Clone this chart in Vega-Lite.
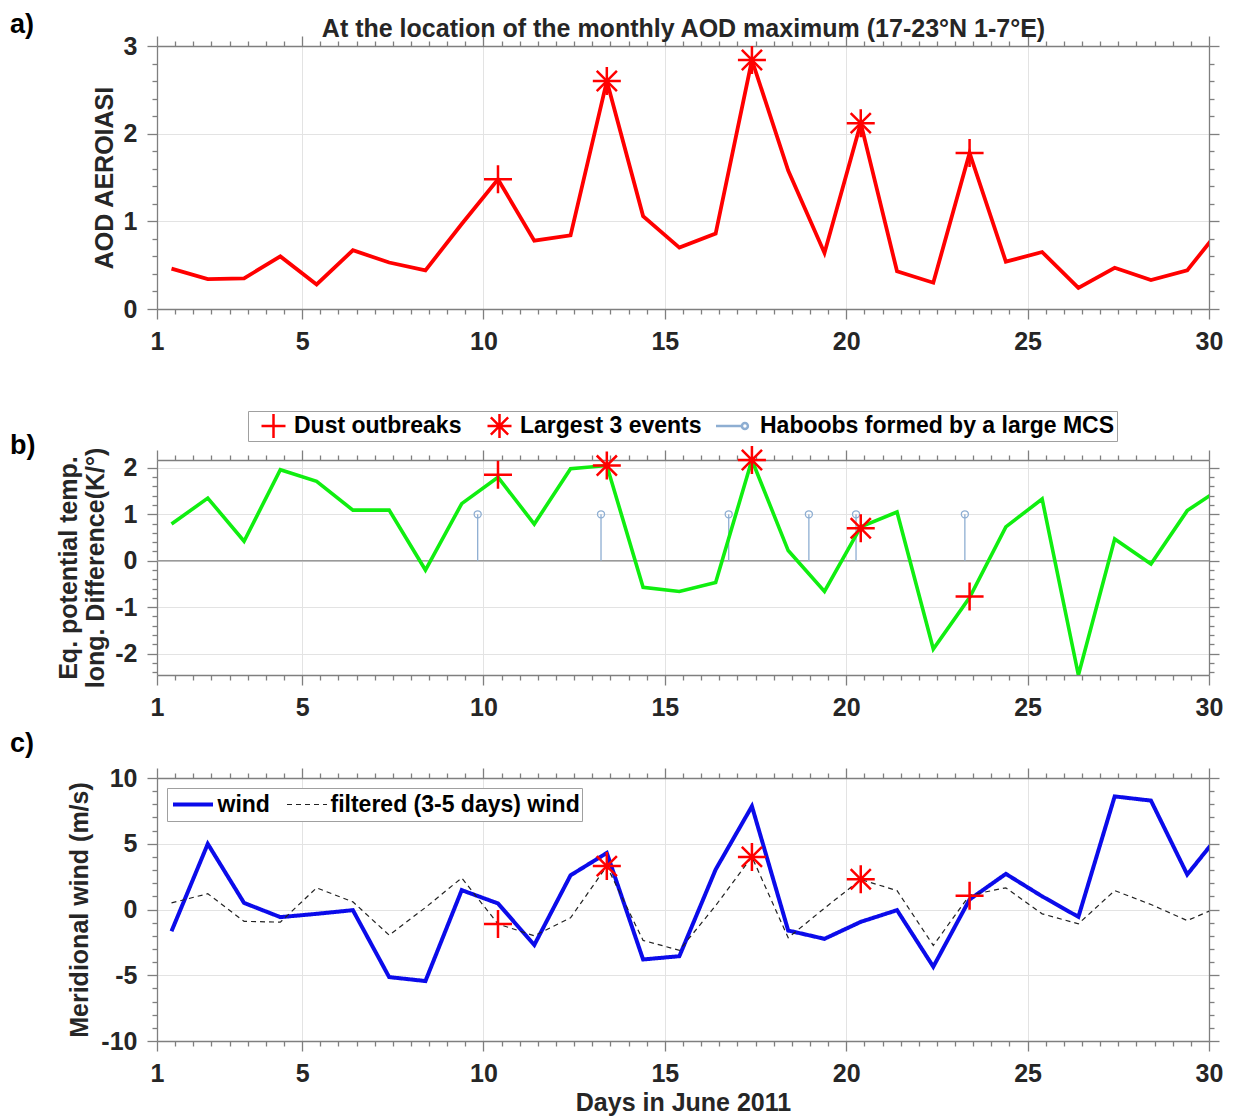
{
  "$schema": "https://vega.github.io/schema/vega-lite/v6.json",
  "padding": {"left": 10, "top": 11, "right": 5, "bottom": 2},
  "spacing": 10,
  "datasets": {
    "series": [
      {"day": 1.4, "aod": 0.46, "theta": 0.79, "wind": -1.65, "filtered": 0.5},
      {"day": 2.4, "aod": 0.34, "theta": 1.35, "wind": 4.99, "filtered": 1.2},
      {"day": 3.4, "aod": 0.35, "theta": 0.42, "wind": 0.5, "filtered": -0.9},
      {"day": 4.4, "aod": 0.6, "theta": 1.96, "wind": -0.58, "filtered": -0.96},
      {"day": 5.4, "aod": 0.28, "theta": 1.71, "wind": -0.33, "filtered": 1.65},
      {"day": 6.4, "aod": 0.67, "theta": 1.09, "wind": -0.05, "filtered": 0.58},
      {"day": 7.4, "aod": 0.53, "theta": 1.09, "wind": -5.14, "filtered": -1.95},
      {"day": 8.4, "aod": 0.44, "theta": -0.2, "wind": -5.44, "filtered": 0.15},
      {"day": 9.4, "aod": 0.97, "theta": 1.23, "wind": 1.47, "filtered": 2.4},
      {"day": 10.4, "aod": 1.48, "theta": 1.8, "wind": 0.46, "filtered": -1.1},
      {"day": 11.4, "aod": 0.78, "theta": 0.79, "wind": -2.7, "filtered": -2.0},
      {"day": 12.4, "aod": 0.84, "theta": 1.98, "wind": 2.6, "filtered": -0.63},
      {"day": 13.4, "aod": 2.6, "theta": 2.05, "wind": 4.3, "filtered": 3.3},
      {"day": 14.4, "aod": 1.06, "theta": -0.57, "wind": -3.8, "filtered": -2.35},
      {"day": 15.4, "aod": 0.7, "theta": -0.66, "wind": -3.55, "filtered": -3.1},
      {"day": 16.4, "aod": 0.86, "theta": -0.47, "wind": 3.04, "filtered": 0.3},
      {"day": 17.4, "aod": 2.84, "theta": 2.17, "wind": 7.85, "filtered": 4.0},
      {"day": 18.4, "aod": 1.58, "theta": 0.22, "wind": -1.6, "filtered": -2.15},
      {"day": 19.4, "aod": 0.64, "theta": -0.66, "wind": -2.23, "filtered": 0.1},
      {"day": 20.4, "aod": 2.12, "theta": 0.73, "wind": -0.94, "filtered": 2.28},
      {"day": 21.4, "aod": 0.43, "theta": 1.05, "wind": -0.05, "filtered": 1.44},
      {"day": 22.4, "aod": 0.3, "theta": -1.9, "wind": -4.35, "filtered": -2.73},
      {"day": 23.4, "aod": 1.78, "theta": -0.79, "wind": 0.76, "filtered": 1.09},
      {"day": 24.4, "aod": 0.54, "theta": 0.73, "wind": 2.71, "filtered": 1.65},
      {"day": 25.4, "aod": 0.65, "theta": 1.33, "wind": 1.0, "filtered": -0.33},
      {"day": 26.4, "aod": 0.24, "theta": -2.46, "wind": -0.56, "filtered": -1.09},
      {"day": 27.4, "aod": 0.47, "theta": 0.47, "wind": 8.6, "filtered": 1.44},
      {"day": 28.4, "aod": 0.33, "theta": -0.07, "wind": 8.28, "filtered": 0.38},
      {"day": 29.4, "aod": 0.44, "theta": 1.08, "wind": 2.66, "filtered": -0.84},
      {"day": 30.4, "aod": 0.96, "theta": 1.6, "wind": 6.1, "filtered": 0.34}
    ],
    "events": [
      {"day": 10.4, "type": "Dust outbreaks", "a": 1.48, "b": 1.85, "c": -1.1},
      {"day": 13.4, "type": "Largest 3 events", "a": 2.6, "b": 2.05, "c": 3.3},
      {"day": 17.4, "type": "Largest 3 events", "a": 2.84, "b": 2.17, "c": 4.0},
      {"day": 20.4, "type": "Largest 3 events", "a": 2.12, "b": 0.7, "c": 2.3},
      {"day": 23.4, "type": "Dust outbreaks", "a": 1.78, "b": -0.77, "c": 1.05}
    ],
    "haboobs": [
      {"day": 9.84, "v": 1},
      {"day": 13.24, "v": 1},
      {"day": 16.76, "v": 1},
      {"day": 18.97, "v": 1},
      {"day": 20.27, "v": 1},
      {"day": 23.27, "v": 1}
    ],
    "zero": [{"v": 0}]
  },
  "resolve": {
    "scale": {"x": "independent", "y": "independent", "color": "independent", "shape": "independent", "strokeDash": "independent", "strokeWidth": "independent"},
    "legend": {"color": "independent", "shape": "independent", "strokeDash": "independent", "strokeWidth": "independent"}
  },
  "vconcat": [
    {
      "width": 1052,
      "height": 263,
      "title": {"text": "a)", "dx": -147, "dy": 27},
      "resolve": {"axis": {"x": "independent", "y": "independent"}},
      "layer": [
        {
          "data": {"name": "series"},
          "mark": {"type": "line", "color": "#ff0000", "strokeWidth": 3.8, "clip": true},
          "encoding": {
            "x": {"field": "day", "type": "quantitative", "scale": {"domain": [1, 30], "nice": false, "zero": false},
              "axis": {"orient": "bottom", "values": [1,1.5,2,2.5,3,3.5,4,4.5,5,5.5,6,6.5,7,7.5,8,8.5,9,9.5,10,10.5,11,11.5,12,12.5,13,13.5,14,14.5,15,15.5,16,16.5,17,17.5,18,18.5,19,19.5,20,20.5,21,21.5,22,22.5,23,23.5,24,24.5,25,25.5,26,26.5,27,27.5,28,28.5,29,29.5,30],
                "tickSize": 10, "tickDash": {"condition": {"test": "indexof([1,5,10,15,20,25,30], datum.value) < 0", "value": [5, 20]}, "value": [12, 0]},
                "grid": true, "gridOpacity": {"condition": {"test": "indexof([1,5,10,15,20,25,30], datum.value) >= 0", "value": 1}, "value": 0},
                "labelExpr": "indexof([1,5,10,15,20,25,30], datum.value) >= 0 ? '' + datum.value : ''",
                "labelPadding": 10, "labelFlush": false, "labelOverlap": false, "labelBound": false, "title": " ", "titlePadding": 21}},
            "y": {"field": "aod", "type": "quantitative", "scale": {"domain": [0, 3], "nice": false, "zero": false},
              "axis": {"orient": "left", "values": [0,0.2,0.4,0.6,0.8,1,1.2,1.4,1.6,1.8,2,2.2,2.4,2.6,2.8,3],
                "tickSize": 10, "tickDash": {"condition": {"test": "datum.value % 1 !== 0", "value": [5, 20]}, "value": [12, 0]},
                "grid": true, "gridOpacity": {"condition": {"test": "datum.value % 1 === 0", "value": 1}, "value": 0},
                "labelExpr": "datum.value % 1 === 0 ? '' + datum.value : ''",
                "labelPadding": 10, "labelFlush": false, "labelOverlap": false, "labelBound": false,
                "title": "AOD AEROIASI", "titlePadding": 6}}
          }
        },
        {
          "data": {"name": "events"},
          "mark": {"type": "point", "shape": "M-1,0L1,0M0,-1L0,1", "filled": false, "size": 784, "strokeWidth": 2.5, "color": "#ff0000", "opacity": 1},
          "encoding": {
            "x": {"field": "day", "type": "quantitative",
              "axis": {"orient": "top", "values": [1,1.5,2,2.5,3,3.5,4,4.5,5,5.5,6,6.5,7,7.5,8,8.5,9,9.5,10,10.5,11,11.5,12,12.5,13,13.5,14,14.5,15,15.5,16,16.5,17,17.5,18,18.5,19,19.5,20,20.5,21,21.5,22,22.5,23,23.5,24,24.5,25,25.5,26,26.5,27,27.5,28,28.5,29,29.5,30],
                "tickSize": 10, "tickDash": {"condition": {"test": "indexof([1,5,10,15,20,25,30], datum.value) < 0", "value": [5, 20]}, "value": [12, 0]},
                "grid": false, "labels": false, "title": "At the location of the monthly AOD maximum (17-23°N 1-7°E)", "titlePadding": -6}},
            "y": {"field": "a", "type": "quantitative",
              "axis": {"orient": "right", "values": [0,0.2,0.4,0.6,0.8,1,1.2,1.4,1.6,1.8,2,2.2,2.4,2.6,2.8,3],
                "tickSize": 10, "tickDash": {"condition": {"test": "datum.value % 1 !== 0", "value": [5, 20]}, "value": [12, 0]},
                "grid": false, "labels": false, "title": null}}
          }
        },
        {
          "data": {"name": "events"},
          "transform": [{"filter": "datum.type == 'Largest 3 events'"}],
          "mark": {"type": "point", "shape": "M-0.72,-0.72L0.72,0.72M-0.72,0.72L0.72,-0.72", "filled": false, "size": 784, "strokeWidth": 2.5, "color": "#ff0000", "opacity": 1},
          "encoding": {
            "x": {"field": "day", "type": "quantitative", "axis": null},
            "y": {"field": "a", "type": "quantitative", "axis": null}
          }
        }
      ]
    },
    {
      "width": 1052,
      "height": 215,
      "title": {"text": "b)", "dx": -147, "dy": 53},
      "resolve": {"axis": {"x": "independent", "y": "independent"}},
      "layer": [
        {
          "data": {"name": "zero"},
          "mark": {"type": "rule", "color": "#9a9a9a", "strokeWidth": 1.5},
          "encoding": {
            "y": {"field": "v", "type": "quantitative", "scale": {"domain": [-2.46, 2.17], "nice": false, "zero": false}, "axis": null}
          }
        },
        {
          "data": {"name": "haboobs"},
          "mark": {"type": "rule", "color": "#8eaed2", "strokeWidth": 1.3},
          "encoding": {
            "x": {"field": "day", "type": "quantitative", "scale": {"domain": [1, 30], "nice": false, "zero": false}, "axis": null},
            "y": {"field": "v", "type": "quantitative", "axis": null},
            "y2": {"datum": 0}
          }
        },
        {
          "data": {"name": "haboobs"},
          "mark": {"type": "point", "shape": "circle", "filled": false, "size": 50, "strokeWidth": 1.3, "color": "#8eaed2", "opacity": 1},
          "encoding": {
            "x": {"field": "day", "type": "quantitative", "axis": null},
            "y": {"field": "v", "type": "quantitative", "axis": null}
          }
        },
        {
          "data": {"name": "series"},
          "mark": {"type": "line", "color": "#10ee10", "strokeWidth": 3.6, "clip": true},
          "encoding": {
            "x": {"field": "day", "type": "quantitative", "scale": {"domain": [1, 30], "nice": false, "zero": false},
              "axis": {"orient": "bottom", "values": [1,1.5,2,2.5,3,3.5,4,4.5,5,5.5,6,6.5,7,7.5,8,8.5,9,9.5,10,10.5,11,11.5,12,12.5,13,13.5,14,14.5,15,15.5,16,16.5,17,17.5,18,18.5,19,19.5,20,20.5,21,21.5,22,22.5,23,23.5,24,24.5,25,25.5,26,26.5,27,27.5,28,28.5,29,29.5,30],
                "tickSize": 10, "tickDash": {"condition": {"test": "indexof([1,5,10,15,20,25,30], datum.value) < 0", "value": [5, 20]}, "value": [12, 0]},
                "grid": true, "gridOpacity": {"condition": {"test": "indexof([1,5,10,15,20,25,30], datum.value) >= 0", "value": 1}, "value": 0},
                "labelExpr": "indexof([1,5,10,15,20,25,30], datum.value) >= 0 ? '' + datum.value : ''",
                "labelPadding": 10, "labelFlush": false, "labelOverlap": false, "labelBound": false, "title": null}},
            "y": {"field": "theta", "type": "quantitative", "scale": {"domain": [-2.46, 2.17], "nice": false, "zero": false},
              "axis": {"orient": "left", "values": [-2.4,-2.2,-2,-1.8,-1.6,-1.4,-1.2,-1,-0.8,-0.6,-0.4,-0.2,0,0.2,0.4,0.6,0.8,1,1.2,1.4,1.6,1.8,2],
                "tickSize": 10, "tickDash": {"condition": {"test": "datum.value % 1 !== 0", "value": [5, 20]}, "value": [12, 0]},
                "grid": true, "gridOpacity": {"condition": {"test": "datum.value % 1 === 0", "value": 1}, "value": 0},
                "labelExpr": "datum.value % 1 === 0 ? '' + datum.value : ''",
                "labelPadding": 10, "labelFlush": false, "labelOverlap": false, "labelBound": false,
                "title": ["Eq. potential temp.", "long. Difference(K/°)"], "titlePadding": 6, "titleLineHeight": 27}}
          }
        },
        {
          "data": {"name": "events"},
          "mark": {"type": "point", "filled": false, "size": 784, "opacity": 1},
          "encoding": {
            "x": {"field": "day", "type": "quantitative",
              "axis": {"orient": "top", "values": [1,1.5,2,2.5,3,3.5,4,4.5,5,5.5,6,6.5,7,7.5,8,8.5,9,9.5,10,10.5,11,11.5,12,12.5,13,13.5,14,14.5,15,15.5,16,16.5,17,17.5,18,18.5,19,19.5,20,20.5,21,21.5,22,22.5,23,23.5,24,24.5,25,25.5,26,26.5,27,27.5,28,28.5,29,29.5,30],
                "tickSize": 10, "tickDash": {"condition": {"test": "indexof([1,5,10,15,20,25,30], datum.value) < 0", "value": [5, 20]}, "value": [12, 0]},
                "grid": false, "labels": false, "title": null}},
            "y": {"field": "b", "type": "quantitative",
              "axis": {"orient": "right", "values": [-2.4,-2.2,-2,-1.8,-1.6,-1.4,-1.2,-1,-0.8,-0.6,-0.4,-0.2,0,0.2,0.4,0.6,0.8,1,1.2,1.4,1.6,1.8,2],
                "tickSize": 10, "tickDash": {"condition": {"test": "datum.value % 1 !== 0", "value": [5, 20]}, "value": [12, 0]},
                "grid": false, "labels": false, "title": null}},
            "shape": {"field": "type", "type": "nominal",
              "scale": {"domain": ["Dust outbreaks", "Largest 3 events", "Haboobs formed by a large MCS"],
                "range": ["M-1,0L1,0M0,-1L0,1", "M-1,0L1,0M0,-1L0,1M-0.72,-0.72L0.72,0.72M-0.72,0.72L0.72,-0.72", "M-2,0L0.2,0M0.2,0A0.25,0.25 0 1,1 0.7,0A0.25,0.25 0 1,1 0.2,0"]},
              "legend": {"orient": "none", "legendX": 91, "legendY": -49, "direction": "horizontal", "title": null, "symbolSize": 576, "symbolOffset": 10, "labelOffset": 7, "columnPadding": 14, "padding": 2, "clipHeight": 26}},
            "color": {"field": "type", "type": "nominal",
              "scale": {"domain": ["Dust outbreaks", "Largest 3 events", "Haboobs formed by a large MCS"], "range": ["#ff0000", "#ff0000", "#8eaed2"]},
              "legend": {"orient": "none", "legendX": 91, "legendY": -49, "direction": "horizontal", "title": null, "symbolSize": 576, "symbolOffset": 10, "labelOffset": 7, "columnPadding": 14, "padding": 2, "clipHeight": 26}},
            "strokeWidth": {"field": "type", "type": "nominal",
              "scale": {"domain": ["Dust outbreaks", "Largest 3 events", "Haboobs formed by a large MCS"], "range": [2.5, 2.5, 1.3]},
              "legend": {"orient": "none", "legendX": 91, "legendY": -49, "direction": "horizontal", "title": null, "symbolSize": 576, "symbolOffset": 10, "labelOffset": 7, "columnPadding": 14, "padding": 2, "clipHeight": 26}}
          }
        }
      ]
    },
    {
      "width": 1052,
      "height": 263,
      "title": {"text": "c)", "dx": -147, "dy": -4},
      "resolve": {"axis": {"x": "independent", "y": "independent"}},
      "layer": [
        {
          "data": {"name": "series"},
          "transform": [{"fold": ["wind", "filtered"], "as": ["series", "v"]}],
          "mark": {"type": "line", "clip": true},
          "encoding": {
            "x": {"field": "day", "type": "quantitative", "scale": {"domain": [1, 30], "nice": false, "zero": false},
              "axis": {"orient": "bottom", "values": [1,1.5,2,2.5,3,3.5,4,4.5,5,5.5,6,6.5,7,7.5,8,8.5,9,9.5,10,10.5,11,11.5,12,12.5,13,13.5,14,14.5,15,15.5,16,16.5,17,17.5,18,18.5,19,19.5,20,20.5,21,21.5,22,22.5,23,23.5,24,24.5,25,25.5,26,26.5,27,27.5,28,28.5,29,29.5,30],
                "tickSize": 10, "tickDash": {"condition": {"test": "indexof([1,5,10,15,20,25,30], datum.value) < 0", "value": [5, 20]}, "value": [12, 0]},
                "grid": true, "gridOpacity": {"condition": {"test": "indexof([1,5,10,15,20,25,30], datum.value) >= 0", "value": 1}, "value": 0},
                "labelExpr": "indexof([1,5,10,15,20,25,30], datum.value) >= 0 ? '' + datum.value : ''",
                "labelPadding": 10, "labelFlush": false, "labelOverlap": false, "labelBound": false,
                "title": "Days in June 2011", "titlePadding": 4}},
            "y": {"field": "v", "type": "quantitative", "scale": {"domain": [-10, 10], "nice": false, "zero": false},
              "axis": {"orient": "left", "values": [-10,-9,-8,-7,-6,-5,-4,-3,-2,-1,0,1,2,3,4,5,6,7,8,9,10],
                "tickSize": 10, "tickDash": {"condition": {"test": "datum.value % 5 !== 0", "value": [5, 20]}, "value": [12, 0]},
                "grid": true, "gridOpacity": {"condition": {"test": "datum.value % 5 === 0", "value": 1}, "value": 0},
                "labelExpr": "datum.value % 5 === 0 ? '' + datum.value : ''",
                "labelPadding": 10, "labelFlush": false, "labelOverlap": false, "labelBound": false,
                "title": "Meridional wind (m/s)", "titlePadding": 8}},
            "color": {"field": "series", "type": "nominal",
              "scale": {"domain": ["wind", "filtered"], "range": ["#0b0bea", "#222222"]},
              "legend": {"orient": "none", "legendX": 10, "legendY": 10, "direction": "horizontal", "title": null, "symbolType": "M-1.6,0L1.6,0", "symbolSize": 625, "symbolOffset": 9.5, "labelOffset": 10, "columnPadding": 14, "padding": 2, "clipHeight": 29,
                "labelExpr": "datum.label == 'filtered' ? 'filtered (3-5 days) wind' : datum.label"}},
            "strokeDash": {"field": "series", "type": "nominal",
              "scale": {"domain": ["wind", "filtered"], "range": [[1, 0], [5, 4]]},
              "legend": {"orient": "none", "legendX": 10, "legendY": 10, "direction": "horizontal", "title": null, "symbolType": "M-1.6,0L1.6,0", "symbolSize": 625, "symbolOffset": 9.5, "labelOffset": 10, "columnPadding": 14, "padding": 2, "clipHeight": 29,
                "labelExpr": "datum.label == 'filtered' ? 'filtered (3-5 days) wind' : datum.label"}},
            "strokeWidth": {"field": "series", "type": "nominal",
              "scale": {"domain": ["wind", "filtered"], "range": [4, 1.2]},
              "legend": {"orient": "none", "legendX": 10, "legendY": 10, "direction": "horizontal", "title": null, "symbolType": "M-1.6,0L1.6,0", "symbolSize": 625, "symbolOffset": 9.5, "labelOffset": 10, "columnPadding": 14, "padding": 2, "clipHeight": 29,
                "labelExpr": "datum.label == 'filtered' ? 'filtered (3-5 days) wind' : datum.label"}}
          }
        },
        {
          "data": {"name": "events"},
          "mark": {"type": "point", "shape": "M-1,0L1,0M0,-1L0,1", "filled": false, "size": 784, "strokeWidth": 2.5, "color": "#ff0000", "opacity": 1},
          "encoding": {
            "x": {"field": "day", "type": "quantitative",
              "axis": {"orient": "top", "values": [1,1.5,2,2.5,3,3.5,4,4.5,5,5.5,6,6.5,7,7.5,8,8.5,9,9.5,10,10.5,11,11.5,12,12.5,13,13.5,14,14.5,15,15.5,16,16.5,17,17.5,18,18.5,19,19.5,20,20.5,21,21.5,22,22.5,23,23.5,24,24.5,25,25.5,26,26.5,27,27.5,28,28.5,29,29.5,30],
                "tickSize": 10, "tickDash": {"condition": {"test": "indexof([1,5,10,15,20,25,30], datum.value) < 0", "value": [5, 20]}, "value": [12, 0]},
                "grid": false, "labels": false, "title": null}},
            "y": {"field": "c", "type": "quantitative",
              "axis": {"orient": "right", "values": [-10,-9,-8,-7,-6,-5,-4,-3,-2,-1,0,1,2,3,4,5,6,7,8,9,10],
                "tickSize": 10, "tickDash": {"condition": {"test": "datum.value % 5 !== 0", "value": [5, 20]}, "value": [12, 0]},
                "grid": false, "labels": false, "title": null}}
          }
        },
        {
          "data": {"name": "events"},
          "transform": [{"filter": "datum.type == 'Largest 3 events'"}],
          "mark": {"type": "point", "shape": "M-0.72,-0.72L0.72,0.72M-0.72,0.72L0.72,-0.72", "filled": false, "size": 784, "strokeWidth": 2.5, "color": "#ff0000", "opacity": 1},
          "encoding": {
            "x": {"field": "day", "type": "quantitative", "axis": null},
            "y": {"field": "c", "type": "quantitative", "axis": null}
          }
        }
      ]
    }
  ],
  "config": {
    "font": "Liberation Sans",
    "view": {"stroke": null},
    "axis": {
      "labelFont": "Liberation Sans", "labelFontSize": 25, "labelFontWeight": "bold", "labelColor": "#262626",
      "titleFont": "Liberation Sans", "titleFontSize": 25, "titleFontWeight": "bold", "titleColor": "#262626",
      "domainColor": "#7f7f7f", "domainWidth": 1.3, "tickColor": "#7f7f7f", "tickWidth": 1.3,
      "gridColor": "#e3e3e3", "gridWidth": 1
    },
    "legend": {
      "labelFont": "Liberation Sans", "labelFontSize": 23, "labelFontWeight": "bold", "labelColor": "#000000", "labelLimit": 600,
      "strokeColor": "#a0a0a0", "fillColor": "#ffffff", "cornerRadius": 0
    },
    "title": {"font": "Liberation Sans", "fontSize": 27, "fontWeight": "bold", "color": "#000000", "anchor": "start", "frame": "group"}
  }
}
